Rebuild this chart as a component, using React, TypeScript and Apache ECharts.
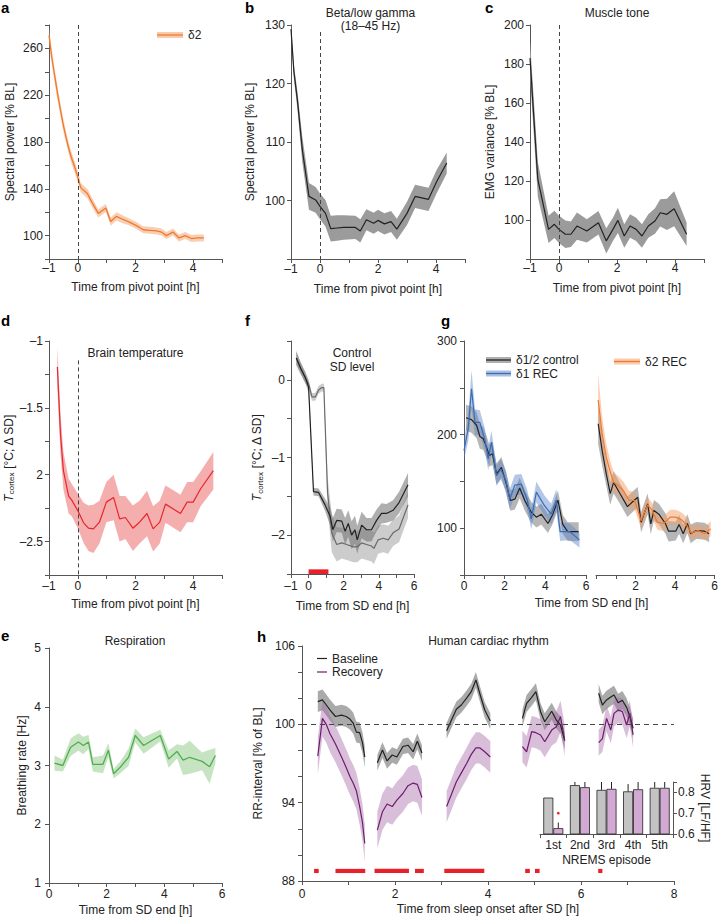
import React, { useEffect, useRef } from 'react';
import * as echarts from 'echarts';

const FONT = '"Liberation Sans", Arial, Helvetica, sans-serif';

// ---------- panel a: delta2 spectral power ----------
const aX = [-1, -0.9, -0.8, -0.7, -0.6, -0.5, -0.4, -0.3, -0.2, -0.1, 0, 0.1, 0.33, 0.5, 0.71, 0.97, 1.14, 1.34, 1.55, 1.75, 2.0, 2.27, 2.5, 2.73, 2.9, 3.07, 3.3, 3.51, 3.72, 3.94, 4.15, 4.37];
const aY = [271, 252, 236, 221, 207, 194, 183, 173, 165, 158, 150, 141, 136, 128, 119, 123.6, 112, 116.5, 114, 112, 109, 105, 104.5, 104, 103, 100, 103, 98, 100, 97.5, 98, 98];
const aErr = [7, 6.5, 6, 6, 5.5, 5.5, 5, 5, 5, 5, 4.5, 4, 4, 4, 3.5, 3.5, 3.5, 3.5, 3.5, 3, 3, 3, 3, 3, 3, 3, 3, 3, 3, 3, 3, 3];

// ---------- panel b: beta/low gamma ----------
const bX = [-1, -0.9, -0.78, -0.61, -0.38, -0.15, 0, 0.19, 0.37, 0.59, 0.82, 1.22, 1.39, 1.6, 1.85, 2.0, 2.22, 2.45, 2.65, 3.0, 3.28, 3.74, 4.02, 4.37];
const bY = [129.3, 122, 117.2, 108.7, 100.7, 100.1, 99, 97.8, 95.2, 95.3, 95.4, 95.4, 94.8, 96.7, 96.1, 96.6, 96.0, 96.4, 95.1, 97.8, 100.7, 100.2, 103.2, 106.4];
const bErr = [0.8, 1.2, 1.5, 2.2, 2.3, 2.2, 2.2, 2.3, 2.2, 2.2, 2.1, 2.0, 2.0, 1.8, 1.8, 1.8, 1.8, 1.8, 1.8, 2.0, 2.0, 2.0, 2.0, 1.8];

// ---------- panel c: muscle tone ----------
const cX = [-1, -0.73, -0.36, -0.16, 0, 0.22, 0.41, 0.62, 0.96, 1.36, 1.63, 1.86, 2.03, 2.25, 2.45, 2.66, 2.86, 3.08, 3.31, 3.49, 3.72, 3.97, 4.4];
const cY = [183, 120.8, 95.2, 97.8, 95.2, 92.7, 92.7, 96.9, 94.4, 98.6, 89.3, 95.2, 99.8, 91.8, 96.9, 95.2, 91.8, 96.9, 99.5, 103.7, 102.9, 105.8, 92.7];
const cErr = [9, 9, 7, 7, 7, 7, 6.5, 7, 6, 6, 6.5, 6, 6.5, 6, 6, 6, 6, 6, 6.5, 7, 8, 9, 6];

// ---------- panel d: brain temperature ----------
const dX = [-0.71, -0.6, -0.5, -0.32, -0.21, 0, 0.2, 0.37, 0.54, 0.75, 0.99, 1.24, 1.45, 1.65, 1.91, 2.14, 2.4, 2.61, 2.84, 3.04, 3.3, 3.56, 3.79, 4.0, 4.26, 4.7];
const dY = [-1.195, -1.7, -1.97, -2.16, -2.19, -2.27, -2.36, -2.4, -2.405, -2.355, -2.205, -2.17, -2.33, -2.32, -2.4, -2.355, -2.29, -2.405, -2.355, -2.22, -2.255, -2.29, -2.205, -2.205, -2.105, -1.97];
const dErr = [0.15, 0.15, 0.14, 0.13, 0.12, 0.13, 0.15, 0.17, 0.18, 0.16, 0.15, 0.17, 0.17, 0.16, 0.17, 0.16, 0.17, 0.17, 0.16, 0.14, 0.14, 0.14, 0.15, 0.15, 0.13, 0.14];

// ---------- panel f: control vs SD level ----------
const fCtrlX = [-0.7, -0.45, -0.19, 0, 0.28, 0.57, 0.94, 1.23, 1.38, 1.6, 1.89, 2.08, 2.26, 2.45, 2.64, 2.77, 3.02, 3.3, 3.58, 3.87, 4.15, 4.43, 4.81, 5.15, 5.66];
const fCtrlY = [0.28, 0.15, 0.03, -0.09, -1.44, -1.45, -1.61, -1.76, -1.93, -1.81, -1.82, -1.95, -1.85, -2.0, -1.93, -2.06, -1.87, -1.93, -1.93, -1.81, -1.72, -1.72, -1.68, -1.58, -1.35];
const fCtrlErr = [0.08, 0.07, 0.07, 0.07, 0.05, 0.05, 0.08, 0.12, 0.15, 0.15, 0.15, 0.17, 0.17, 0.18, 0.18, 0.18, 0.17, 0.15, 0.15, 0.14, 0.13, 0.12, 0.13, 0.14, 0.15];
const fSdX = [-0.7, -0.45, -0.19, 0, 0.19, 0.38, 0.57, 0.75, 0.87, 1.08, 1.32, 1.6, 1.89, 2.17, 2.55, 2.77, 3.02, 3.3, 3.58, 3.72, 3.96, 4.25, 4.53, 4.81, 5.15, 5.66];
const fSdY = [0.28, 0.15, 0.03, -0.05, -0.22, -0.22, -0.13, -0.1, -0.1, -1.45, -1.97, -2.12, -2.1, -2.12, -2.15, -2.15, -2.1, -2.12, -2.14, -2.17, -2.06, -2.04, -2.06, -1.97, -1.92, -1.61];
const fSdErr = [0.1, 0.08, 0.07, 0.06, 0.05, 0.05, 0.05, 0.05, 0.05, 0.2, 0.25, 0.22, 0.2, 0.2, 0.2, 0.2, 0.2, 0.2, 0.2, 0.2, 0.18, 0.18, 0.18, 0.17, 0.17, 0.17];
const fSdBar = [0, 1.13];

// ---------- panel g: delta power after SD ----------
const gCtrl1X = [0.1, 0.37, 0.62, 0.78, 0.95, 1.11, 1.24, 1.4, 1.6, 1.84, 2.06, 2.28, 2.5, 2.74, 2.99, 3.31, 3.56, 3.8, 4.13, 4.37, 4.62, 4.86, 5.1, 5.64];
const gCtrl1Y = [218, 216, 210, 198, 195.5, 186.6, 177.7, 179.5, 158, 165, 149, 129.6, 131, 143, 129.6, 117, 111.8, 115, 105, 115, 130, 104, 96.4, 96.4];
const gCtrl1E = [14, 14, 14, 13, 12, 12, 12, 12, 11, 11, 11, 11, 11, 11, 11, 11, 11, 11, 10, 10, 10, 10, 10, 10];
const gRec1X = [0, 0.21, 0.37, 0.54, 0.78, 1.03, 1.19, 1.35, 1.6, 1.81, 2.06, 2.25, 2.5, 2.82, 3.1, 3.31, 3.56, 3.96, 4.29, 4.54, 4.73, 5.19, 5.68];
const gRec1Y = [183, 207, 249, 213, 213, 194, 174, 192, 156, 163, 151, 131, 146, 147, 131, 110, 138.5, 124, 115, 130, 96.4, 96.4, 87.5];
const gRec1E = [10, 14, 20, 14, 13, 12, 12, 12, 11, 11, 11, 11, 11, 11, 11, 11, 11, 11, 11, 12, 10, 9, 8];
const gCtrl2X = [0.11, 0.31, 0.52, 0.72, 0.89, 1.21, 1.59, 1.92, 2.11, 2.28, 2.61, 2.77, 2.93, 3.18, 3.51, 3.67, 4.03, 4.2, 4.41, 4.62, 4.79, 5.07, 5.48, 5.72];
const gCtrl2Y = [211.6, 183, 158, 137, 149, 137, 123, 129.6, 133, 106.4, 126, 104.6, 119, 115, 105, 96.8, 96.8, 104, 94, 105, 94, 97.5, 96.8, 94];
const gCtrl2E = [22, 16, 13, 12, 12, 11, 11, 11, 11, 11, 11, 11, 11, 11, 11, 11, 10, 10, 10, 10, 10, 9, 9, 9];
const gRec2X = [0.11, 0.31, 0.52, 0.72, 0.89, 1.13, 1.38, 1.67, 1.95, 2.28, 2.61, 2.85, 3.1, 3.43, 3.75, 4.03, 4.33, 4.57, 4.82, 5.15, 5.48, 5.8];
const gRec2Y = [237, 201, 176, 160, 149, 145.6, 140, 130, 129.6, 108, 125, 119, 106.4, 105, 111.8, 111.8, 108.9, 104, 94.7, 97.5, 94, 99.3];
const gRec2E = [28, 18, 14, 12, 11, 10, 10, 10, 9, 8, 8, 8, 8, 8, 8, 8, 8, 8, 7, 7, 7, 8];

// ---------- panel e: respiration ----------
const eX = [0.19, 0.48, 0.75, 1.02, 1.19, 1.37, 1.52, 1.87, 2.06, 2.24, 2.47, 2.76, 2.99, 3.28, 3.86, 4.15, 4.44, 4.65, 4.88, 5.31, 5.57, 5.77];
const eY = [3.04, 3.0, 3.31, 3.4, 3.34, 3.4, 3.02, 3.02, 3.26, 2.86, 2.97, 3.14, 3.51, 3.34, 3.51, 3.11, 3.24, 3.09, 3.14, 3.07, 2.98, 3.17];
const eErr = [0.13, 0.1, 0.15, 0.15, 0.15, 0.12, 0.12, 0.15, 0.12, 0.08, 0.1, 0.15, 0.12, 0.14, 0.1, 0.15, 0.12, 0.25, 0.28, 0.15, 0.29, 0.13];

// ---------- panel h: human cardiac rhythm (5 NREM episodes) ----------
const hSegX = [
  [0.34, 0.44, 0.52, 0.6, 0.72, 0.85, 0.95, 1.03, 1.1, 1.17, 1.24, 1.3, 1.35],
  [1.62, 1.73, 1.83, 1.94, 2.04, 2.17, 2.28, 2.39, 2.48, 2.58],
  [3.11, 3.21, 3.32, 3.43, 3.54, 3.64, 3.74, 3.82, 3.93, 4.05],
  [4.74, 4.83, 4.94, 5.03, 5.13, 5.22, 5.37, 5.47, 5.56, 5.65],
  [6.38, 6.46, 6.55, 6.64, 6.71, 6.8, 6.89, 6.98, 7.05, 7.12],
];
const hBase = [
  [101.74, 101.87, 101.5, 101.1, 100.6, 100.7, 100.6, 100.4, 100.1, 99.4, 99.36, 98.6, 97.5],
  [97.06, 98.03, 97.2, 97.65, 97.5, 98.3, 98.4, 97.9, 98.7, 97.8],
  [99.5, 100.3, 101.15, 101.5, 102.0, 102.5, 103.4, 102.4, 101.1, 100.25],
  [100.46, 101.6, 102.07, 102.5, 100.97, 100.2, 101.0, 100.33, 99.95, 98.75],
  [102.38, 101.48, 101.87, 102.1, 102.25, 101.65, 101.85, 101.3, 100.6, 99.7],
];
const hRec = [
  [97.57, 100.46, 100.0, 99.3, 98.5, 97.5, 96.7, 96.0, 95.5, 94.9, 93.7, 92.5, 90.87],
  [91.9, 93.3, 93.9, 93.7, 94.2, 94.7, 95.3, 95.5, 95.4, 94.4],
  [93.7, 94.6, 95.6, 96.3, 97.0, 97.7, 98.2, 98.2, 97.9, 97.5],
  [98.3, 97.9, 99.44, 99.36, 99.18, 98.67, 99.56, 99.82, 100.6, 98.75],
  [98.6, 98.9, 100.46, 99.56, 100.84, 101.1, 100.97, 99.95, 100.84, 99.2],
];
const hBaseErr = [0.8, 0.6, 0.6, 0.65, 0.7];
const hRecErr = [1.4, 1.4, 1.2, 1.2, 1.0];
const hSleepStart = [0.26, 0.72, 1.56, 2.43, 3.06, 4.8, 5.01, 6.37];
const hSleepEnd = [0.36, 1.36, 2.3, 2.62, 3.92, 4.9, 5.11, 6.46];

// inset: HRV per NREMS episode
const episodes = ['1st', '2nd', '3rd', '4th', '5th'];
const hrvBase = [0.775, 0.835, 0.812, 0.805, 0.822];
const hrvRec = [0.628, 0.825, 0.817, 0.815, 0.822];
const hrvBaseUp = [0.775, 0.85, 0.85, 0.84, 0.85];
const hrvRecUp = [0.655, 0.85, 0.85, 0.85, 0.85];
const hrvStar = 0.7;

// ---------- colors ----------
const C = {
  axis: '#555',
  text: '#222',
  orange: '#ef7a2e',
  orangeBand: 'rgba(244,160,105,0.5)',
  black: '#222',
  grayBand: '#9b9b9b',
  red: '#e8262d',
  redBand: 'rgba(236,120,120,0.6)',
  blue: '#3a6db5',
  blueBand: 'rgba(90,130,200,0.45)',
  green: '#4fae4f',
  greenBand: 'rgba(130,195,120,0.45)',
  purple: '#6e1c6e',
  purpleBand: 'rgba(170,110,170,0.45)',
  hGrayBand: 'rgba(100,100,100,0.55)',
  sleep: '#e8202a',
};

function band(gi: number, xs: number[], ys: number[], es: number[], fill: string, z = 1) {
  return {
    type: 'custom', xAxisIndex: gi, yAxisIndex: gi, silent: true, z,
    data: xs.map((x, i) => [x, ys[i] - es[i], ys[i] + es[i]]),
    encode: { x: 0, y: [1, 2] },
    renderItem: (params: any, api: any) => {
      if (params.dataIndex !== 0) return null;
      const pts: number[][] = [];
      for (let i = 0; i < xs.length; i++) pts.push(api.coord([xs[i], ys[i] + es[i]]));
      for (let i = xs.length - 1; i >= 0; i--) pts.push(api.coord([xs[i], ys[i] - es[i]]));
      return { type: 'polygon', shape: { points: pts }, style: { fill } };
    },
  };
}

function line(gi: number, xs: number[], ys: number[], color: string, width = 1.2, extra: any = {}) {
  return {
    type: 'line', xAxisIndex: gi, yAxisIndex: gi, silent: true, z: 3,
    data: xs.map((x, i) => [x, ys[i]]), symbol: 'none',
    lineStyle: { color, width }, ...extra,
  };
}

function vDash(x: number, y0: number, y1: number) {
  return {
    markLine: {
      silent: true, symbol: ['none', 'none'], label: { show: false }, animation: false,
      lineStyle: { type: [4, 3], color: '#444', width: 1 },
      data: [[{ coord: [x, y0] }, { coord: [x, y1] }]],
    },
  };
}

const near = (v: number, list: number[]) => list.some((t) => Math.abs(t - v) < 1e-6);
const fmtNum = (v: number) => (v < 0 ? '–' + String(Math.abs(v)) : String(v));

function xAxis(gi: number, min: number, max: number, shown: number[], opts: any = {}) {
  return {
    type: 'value', gridIndex: gi, min, max, interval: 1,
    axisLine: { show: true, onZero: false, lineStyle: { color: C.axis, width: 1 } },
    axisTick: { show: true, length: 4, lineStyle: { color: C.axis } },
    axisLabel: {
      color: C.text, fontSize: 12, fontFamily: FONT, margin: opts.margin ?? 4,
      formatter: (v: number) => (near(v, shown) ? fmtNum(v) : ''),
    },
    splitLine: { show: false },
    name: opts.name, nameLocation: 'middle', nameGap: opts.nameGap ?? 24,
    nameTextStyle: { color: C.text, fontSize: 12, fontFamily: FONT, verticalAlign: 'top' },
  };
}

function yAxis(gi: number, min: number, max: number, interval: number, fmt: (v: number) => string, opts: any = {}) {
  return {
    type: 'value', gridIndex: gi, min, max, interval, show: opts.show ?? true,
    axisLine: { show: true, onZero: false, lineStyle: { color: C.axis, width: 1 } },
    axisTick: { show: true, length: 4, lineStyle: { color: C.axis } },
    axisLabel: { color: C.text, fontSize: 12, fontFamily: FONT, margin: opts.margin ?? 6, formatter: fmt },
    splitLine: { show: false },
    name: opts.name, nameLocation: 'middle', nameGap: opts.nameGap ?? 34,
    nameTextStyle: { color: C.text, fontSize: 12, fontFamily: FONT, rich: opts.rich },
  };
}

const tRich = {
  i: { fontStyle: 'italic', fontSize: 12, fontFamily: FONT, color: C.text, lineHeight: 14, verticalAlign: 'middle' },
  s: { fontSize: 8, fontFamily: FONT, color: C.text, lineHeight: 14, verticalAlign: 'bottom', padding: [6, 0, 0, 0] },
  n: { fontSize: 12, fontFamily: FONT, color: C.text, lineHeight: 14, verticalAlign: 'middle' },
};
const tName = '{i|T}{s|cortex}{n| [°C; Δ SD]}';

function txt(x: number, y: number, text: string, opts: any = {}) {
  return {
    type: 'text', x, y, silent: true,
    style: {
      text, fill: opts.fill ?? C.text,
      font: opts.font ?? `12px ${FONT}`,
      align: opts.align ?? 'center', verticalAlign: opts.va ?? 'middle',
      textAlign: opts.align ?? 'center', textVerticalAlign: opts.va ?? 'middle',
    },
  };
}
function letter(x: number, y: number, t: string) {
  return txt(x, y, t, { font: `bold 15px ${FONT}`, align: 'left', fill: '#000' });
}
function legendBand(x: number, y: number, w: number, bandFill: string, lineColor: string, label: string) {
  return [
    { type: 'rect', silent: true, shape: { x, y: y - 3, width: w, height: 6 }, style: { fill: bandFill } },
    { type: 'line', silent: true, shape: { x1: x, y1: y, x2: x + w, y2: y }, style: { stroke: lineColor, lineWidth: 1.3 } },
    txt(x + w + 5, y, label, { align: 'left' }),
  ];
}

function buildOption() {
  const grids = [
    { left: 49, top: 25, width: 173, height: 234 }, // a 0
    { left: 291, top: 25, width: 174, height: 234 }, // b 1
    { left: 530, top: 25, width: 174, height: 234 }, // c 2
    { left: 49, top: 341, width: 173, height: 234 }, // d 3
    { left: 291, top: 341, width: 123, height: 233 }, // f 4
    { left: 464, top: 341, width: 122, height: 234 }, // g left 5
    { left: 596, top: 341, width: 121, height: 234 }, // g right 6
    { left: 49, top: 648, width: 173, height: 235 }, // e 7
    { left: 302, top: 646, width: 372, height: 235 }, // h 8
    { left: 540, top: 782, width: 133, height: 52 }, // inset 9
  ];

  const xAxes: any[] = [
    xAxis(0, -1, 5, [-1, 0, 2, 4], { name: 'Time from pivot point [h]', nameGap: 22, margin: 3 }),
    xAxis(1, -1, 5, [-1, 0, 2, 4], { name: 'Time from pivot point [h]', nameGap: 24, margin: 4 }),
    xAxis(2, -1, 5, [-1, 0, 2, 4], { name: 'Time from pivot point [h]', nameGap: 23, margin: 3 }),
    xAxis(3, -1, 5, [-1, 0, 2, 4], { name: 'Time from pivot point [h]', nameGap: 23, margin: 5 }),
    xAxis(4, -1, 6, [-1, 0, 2, 4, 6], { name: 'Time from SD end [h]', nameGap: 26, margin: 6 }),
    xAxis(5, 0, 6, [0, 2, 4, 6], { margin: 5 }),
    xAxis(6, 0, 6, [2, 4, 6], { margin: 5 }),
    xAxis(7, 0, 6, [0, 2, 4, 6], { name: 'Time from SD end [h]', nameGap: 21, margin: 5 }),
    xAxis(8, 0, 8, [0, 2, 4, 6, 8], { name: 'Time from sleep onset after SD [h]', nameGap: 22, margin: 7 }),
    {
      type: 'category', gridIndex: 9, data: episodes, boundaryGap: true,
      axisLine: { show: true, lineStyle: { color: C.axis } },
      axisTick: { show: true, length: 4, alignWithLabel: false, lineStyle: { color: C.axis } },
      axisLabel: { color: C.text, fontSize: 12, fontFamily: FONT, margin: 5 },
      name: 'NREMS episode', nameLocation: 'middle', nameGap: 20,
      nameTextStyle: { color: C.text, fontSize: 12, fontFamily: FONT, verticalAlign: 'top' },
    },
  ];

  const yAxes: any[] = [
    yAxis(0, 80, 280, 20, (v) => (near(v, [100, 140, 180, 220, 260]) ? String(v) : ''), { name: 'Spectral power [% BL]', nameGap: 33 }),
    yAxis(1, 90, 130, 10, (v) => (v >= 100 ? String(v) : ''), { name: 'Spectral power [% BL]', nameGap: 35 }),
    yAxis(2, 80, 200, 20, (v) => (v >= 100 ? String(v) : ''), { name: 'EMG variance [% BL]', nameGap: 34 }),
    yAxis(3, -2.75, -1, 0.25, (v) => {
      if (near(v, [-1])) return '–1';
      if (near(v, [-1.5])) return '–1.5';
      if (near(v, [-2])) return '2';
      if (near(v, [-2.5])) return '–2.5';
      return '';
    }, { name: tName, nameGap: 32, rich: tRich }),
    yAxis(4, -2.5, 0.5, 0.5, (v) => (near(v, [0, -1, -2]) ? fmtNum(v) : ''), { name: tName, nameGap: 27, rich: tRich }),
    yAxis(5, 50, 300, 50, (v) => (near(v, [100, 200, 300]) ? String(v) : ''), { margin: 7 }),
    yAxis(6, 50, 300, 50, () => '', { show: false }),
    yAxis(7, 1, 5, 1, (v) => String(v), { name: 'Breathing rate [Hz]', nameGap: 21, margin: 8 }),
    yAxis(8, 88, 106, 2, (v) => (near(v, [88, 94, 100, 106]) ? String(v) : ''), { name: 'RR-interval [% of BL]', nameGap: 35, margin: 7 }),
    {
      type: 'value', gridIndex: 9, min: 0.6, max: 0.85, interval: 0.1, position: 'right',
      axisLine: { show: true, lineStyle: { color: C.axis } },
      axisTick: { show: true, length: 4, lineStyle: { color: C.axis } },
      axisLabel: {
        color: C.text, fontSize: 12, fontFamily: FONT, margin: 5,
        formatter: (v: number) => (Math.abs(v - 0.85) < 1e-6 ? '' : v.toFixed(1)),
      },
      splitLine: { show: false },
      name: 'HRV [LF/HF]', nameLocation: 'middle', nameGap: 26, nameRotate: -90,
      nameTextStyle: { color: C.text, fontSize: 12, fontFamily: FONT },
    },
  ];

  const series: any[] = [];
  // a
  series.push(band(0, aX, aY, aErr, C.orangeBand));
  series.push(line(0, aX, aY, C.orange, 1.3, vDash(0, 280, 80)));
  // b
  series.push(band(1, bX, bY, bErr, C.grayBand));
  series.push(line(1, bX, bY, C.black, 1.2, vDash(0, 128.8, 90)));
  // c
  series.push(band(2, cX, cY, cErr, C.grayBand));
  series.push(line(2, cX, cY, C.black, 1.2, vDash(0, 200, 80)));
  // d
  series.push(band(3, dX, dY, dErr, C.redBand));
  series.push(line(3, dX, dY, C.red, 1.2, vDash(0, -1.145, -2.75)));
  // f
  series.push(band(4, fSdX, fSdY, fSdErr, 'rgba(170,170,170,0.6)'));
  series.push(band(4, fCtrlX, fCtrlY, fCtrlErr, 'rgba(110,110,110,0.55)'));
  series.push(line(4, fSdX, fSdY, '#6a6a6a', 1.2));
  series.push(line(4, fCtrlX, fCtrlY, C.black, 1.2));
  series.push({
    type: 'custom', xAxisIndex: 4, yAxisIndex: 4, silent: true, z: 4,
    data: [[fSdBar[0], fSdBar[1], -2.47]], encode: { x: [0, 1], y: 2 },
    renderItem: (p: any, api: any) => {
      const a = api.coord([api.value(0), -2.44]);
      const b = api.coord([api.value(1), -2.5]);
      return { type: 'rect', shape: { x: a[0], y: a[1], width: b[0] - a[0], height: b[1] - a[1] }, style: { fill: C.sleep } };
    },
  });
  // g
  series.push(band(5, gCtrl1X, gCtrl1Y, gCtrl1E, 'rgba(110,110,110,0.5)'));
  series.push(band(5, gRec1X, gRec1Y, gRec1E, C.blueBand));
  series.push(line(5, gCtrl1X, gCtrl1Y, C.black, 1.2));
  series.push(line(5, gRec1X, gRec1Y, C.blue, 1.2));
  series.push(band(6, gCtrl2X, gCtrl2Y, gCtrl2E, 'rgba(110,110,110,0.5)'));
  series.push(band(6, gRec2X, gRec2Y, gRec2E, C.orangeBand));
  series.push(line(6, gCtrl2X, gCtrl2Y, C.black, 1.2));
  series.push(line(6, gRec2X, gRec2Y, C.orange, 1.2));
  // e
  series.push(band(7, eX, eY, eErr, C.greenBand));
  series.push(line(7, eX, eY, C.green, 1.3));
  // h
  for (let s = 0; s < hSegX.length; s++) {
    const xs = hSegX[s];
    series.push(band(8, xs, hBase[s], xs.map(() => hBaseErr[s]), C.hGrayBand));
    series.push(band(8, xs, hRec[s], xs.map(() => hRecErr[s]), C.purpleBand));
    series.push(line(8, xs, hBase[s], C.black, 1.2));
    series.push(line(8, xs, hRec[s], C.purple, 1.2));
  }
  series.push({
    type: 'line', xAxisIndex: 8, yAxisIndex: 8, silent: true, data: [], symbol: 'none',
    markLine: {
      silent: true, symbol: ['none', 'none'], label: { show: false },
      lineStyle: { type: [5, 4], color: '#444', width: 1 },
      data: [[{ coord: [0, 100] }, { coord: [8, 100] }]],
    },
  });
  series.push({
    type: 'custom', xAxisIndex: 8, yAxisIndex: 8, silent: true, z: 4,
    data: hSleepStart.map((s, i) => [s, hSleepEnd[i], 88.77]), encode: { x: [0, 1], y: 2 },
    renderItem: (p: any, api: any) => {
      const a = api.coord([api.value(0), 88.93]);
      const b = api.coord([api.value(1), 88.61]);
      return { type: 'rect', shape: { x: a[0], y: a[1], width: b[0] - a[0], height: b[1] - a[1] }, style: { fill: C.sleep } };
    },
  });
  // inset
  series.push({
    type: 'bar', xAxisIndex: 9, yAxisIndex: 9, silent: true, data: hrvBase, barWidth: 10, barGap: '0%',
    itemStyle: { color: '#c3c3c3', borderColor: '#222', borderWidth: 0.8 },
  });
  series.push({
    type: 'bar', xAxisIndex: 9, yAxisIndex: 9, silent: true, data: hrvRec, barWidth: 10, barGap: '0%',
    itemStyle: { color: '#d2a9d2', borderColor: '#222', borderWidth: 0.8 },
  });
  const errBars = (vals: number[], ups: number[], dx: number) => ({
    type: 'custom', xAxisIndex: 9, yAxisIndex: 9, silent: true, z: 5,
    data: vals.map((v, i) => [i, v, ups[i]]), encode: { x: 0, y: [1, 2] },
    renderItem: (p: any, api: any) => {
      const a = api.coord([api.value(0), api.value(1)]);
      const b = api.coord([api.value(0), api.value(2)]);
      return { type: 'line', shape: { x1: a[0] + dx, y1: a[1], x2: b[0] + dx, y2: b[1] }, style: { stroke: '#222', lineWidth: 1 } };
    },
  });
  series.push(errBars(hrvBase, hrvBaseUp, -5));
  series.push(errBars(hrvRec, hrvRecUp, 5));
  series.push({
    type: 'custom', xAxisIndex: 9, yAxisIndex: 9, silent: true, z: 5,
    data: [[0, hrvStar]], encode: { x: 0, y: 1 },
    renderItem: (p: any, api: any) => {
      const a = api.coord([api.value(0), api.value(1)]);
      return { type: 'circle', shape: { cx: a[0] + 5, cy: a[1], r: 1.4 }, style: { fill: C.red } };
    },
  });

  const graphic: any[] = [
    letter(1, 7, 'a'), letter(245, 7, 'b'), letter(485, 7, 'c'),
    letter(1, 320, 'd'), letter(245, 320, 'f'), letter(441, 320, 'g'),
    letter(1, 635, 'e'), letter(257, 636, 'h'),
    txt(370.5, 13, 'Beta/low gamma'), txt(370.5, 25.5, '(18–45 Hz)'),
    txt(617, 13, 'Muscle tone'),
    txt(135.5, 353, 'Brain temperature'),
    txt(352, 352.5, 'Control'), txt(352, 366.5, 'SD level'),
    txt(135, 640.5, 'Respiration'),
    txt(488.5, 640.5, 'Human cardiac rhythm'),
    txt(591.5, 603, 'Time from SD end [h]'),
    ...legendBand(157, 35, 26, 'rgba(244,160,105,0.55)', C.orange, 'δ2'),
    ...legendBand(486, 360, 25, 'rgba(110,110,110,0.55)', C.black, 'δ1/2 control'),
    ...legendBand(486, 373.5, 25, 'rgba(90,130,200,0.5)', C.blue, 'δ1 REC'),
    ...legendBand(614, 361.5, 26, 'rgba(244,160,105,0.55)', C.orange, 'δ2 REC'),
    { type: 'line', silent: true, shape: { x1: 317, y1: 658.5, x2: 327, y2: 658.5 }, style: { stroke: C.black, lineWidth: 1.2 } },
    txt(332, 658.5, 'Baseline', { align: 'left' }),
    { type: 'line', silent: true, shape: { x1: 317, y1: 672, x2: 327, y2: 672 }, style: { stroke: C.purple, lineWidth: 1.2 } },
    txt(332, 672, 'Recovery', { align: 'left' }),
  ];

  return {
    animation: false,
    backgroundColor: '#fff',
    textStyle: { fontFamily: FONT },
    grid: grids,
    xAxis: xAxes,
    yAxis: yAxes,
    series,
    graphic,
  };
}

export default function App() {
  const ref = useRef<HTMLDivElement>(null);
  useEffect(() => {
    if (!ref.current) return;
    const chart = echarts.init(ref.current, undefined, { renderer: 'svg' });
    chart.setOption(buildOption() as any);
    return () => chart.dispose();
  }, []);
  return <div ref={ref} style={{ position: 'absolute', left: 0, top: 0, width: 721, height: 918 }} />;
}
